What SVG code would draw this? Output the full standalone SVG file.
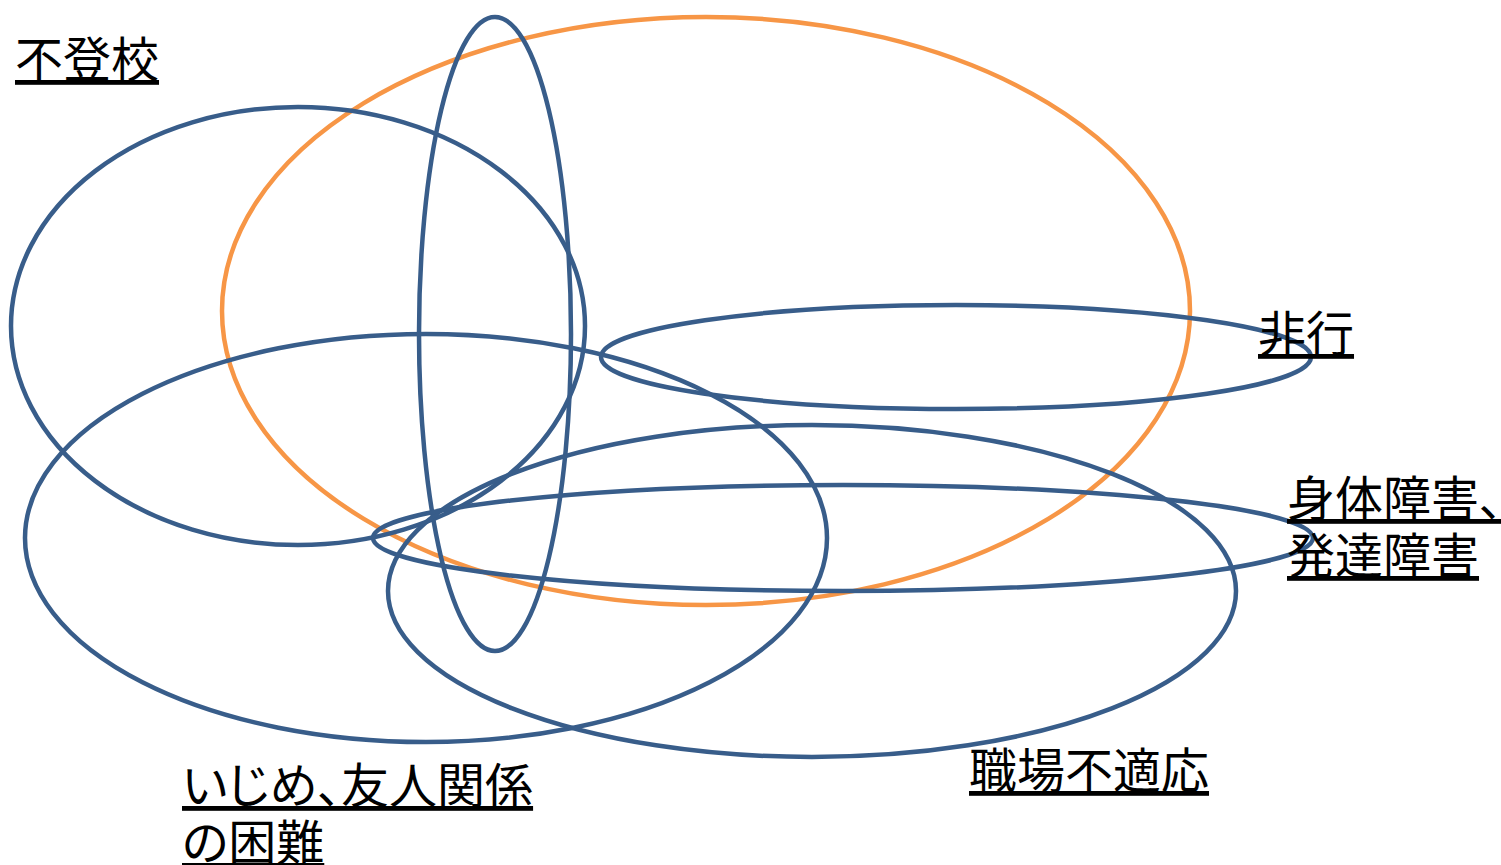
<svg xmlns="http://www.w3.org/2000/svg" width="1501" height="865" viewBox="0 0 1501 865">
<style>
.b{fill:none;stroke:#385D8A;stroke-width:4.5}
.o{fill:none;stroke:#F79646;stroke-width:4.5}
.t{font-family:"Noto Sans CJK JP","Noto Sans",sans-serif;font-size:48px;fill:#000;text-decoration:underline;font-feature-settings:"palt"}
</style>
<rect width="1501" height="865" fill="#fff"/>
<g id="shapes">
<ellipse id="e-futoko" class="o" cx="706" cy="311" rx="484" ry="294"/>
<ellipse id="e-left" class="b" cx="298" cy="326" rx="287" ry="219"/>
<ellipse id="e-vert" class="b" cx="495" cy="334" rx="76" ry="317"/>
<ellipse id="e-hiko" class="b" cx="956" cy="357" rx="355" ry="52"/>
<ellipse id="e-ijime" class="b" cx="426" cy="538" rx="401" ry="204"/>
<ellipse id="e-shokuba" class="b" cx="812" cy="591" rx="424" ry="166"/>
<ellipse id="e-shintai" class="b" cx="843" cy="538" rx="470" ry="53"/>
</g>
<g id="labels">
<text id="l-futoko" class="t" x="15" y="77">不登校</text>
<text id="l-hiko" class="t" x="1258" y="351">非行</text>
<text id="l-shintai" class="t"><tspan x="1287" y="516">身体障害、</tspan><tspan x="1287" y="573">発達障害</tspan></text>
<text id="l-shokuba" class="t" x="969" y="788">職場不適応</text>
<text id="l-ijime" class="t"><tspan x="182" y="803">いじめ、友人関係</tspan><tspan x="182" y="860">の困難</tspan></text>
</g>
</svg>
